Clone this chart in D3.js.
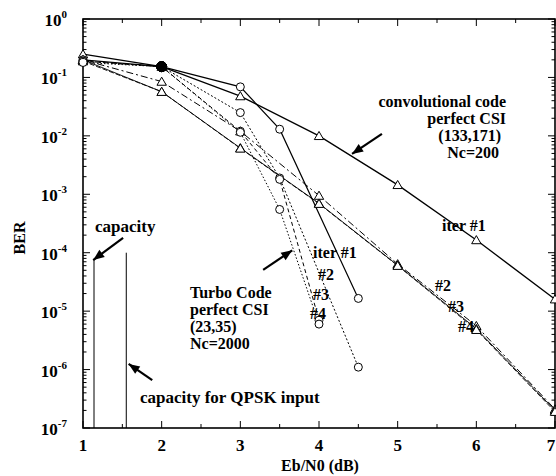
<!DOCTYPE html>
<html><head><meta charset="utf-8">
<script src="https://cdn.jsdelivr.net/npm/d3@7"></script>
<style>body{margin:0;background:#fff}svg text{font-family:"Liberation Serif","Times New Roman",serif;font-weight:bold;fill:#000}</style>
</head><body>
<svg id="c" width="556" height="476"></svg>
<script>
// ---- data ----
const xTickVals=[1,2,3,4,5,6,7];
const xMinorVals=[1.5,2.5,3.5,4.5,5.5,6.5];
const yTickExps=[0,-1,-2,-3,-4,-5,-6,-7];
const convX=[1,2,3,4,5,6,7];
const conv1=[0.25,0.153,4.8e-2,1.0e-2,1.45e-3,1.65e-4,1.6e-5];
const conv2=[0.2,8.5e-2,1.2e-2,9.5e-4,6.4e-5,5.6e-6,2.1e-7];
const conv3=[0.2,5.7e-2,6.2e-3,7.0e-4,6.1e-5,5.0e-6,2.0e-7];
const conv4=[0.19,5.7e-2,6.1e-3,6.9e-4,6.0e-5,4.8e-6,1.9e-7];
const turbo1X=[1,2,3,3.5,4.5];
const turbo1=[0.2,0.153,6.9e-2,1.3e-2,1.65e-5];
const turbo2X=[1,2,3,3.5,4.5];
const turbo2=[0.19,0.153,2.5e-2,1.9e-3,1.1e-6];
const turbo3X=[1,2,3,3.5,4];
const turbo3=[0.19,0.153,1.2e-2,1.8e-3,7e-6];
const turbo4X=[1,2,3,3.5,4];
const turbo4=[0.18,0.153,1.15e-2,5.5e-4,6e-6];
const capX=[1.14,1.55];
const capTop=[7.5e-5,1.0e-4];

// ---- layout ----
const L=83,R=555,T=19,B=428;
const svg=d3.select("#c");
const x=d3.scaleLinear().domain([1,7]).range([L,R]);
const y=d3.scaleLog().domain([1e-7,1]).range([B,T]);

// frame
svg.append("rect").attr("x",L).attr("y",T).attr("width",R-L).attr("height",B-T)
  .attr("fill","none").attr("stroke","#000").attr("stroke-width",1.6);

// ticks (inward on all sides)
const tk=svg.append("g").attr("stroke","#000").attr("stroke-width",1);
function hTick(v,len){
  tk.append("line").attr("x1",L).attr("x2",L+len).attr("y1",y(v)).attr("y2",y(v));
  tk.append("line").attr("x1",R).attr("x2",R-len).attr("y1",y(v)).attr("y2",y(v));
}
function vTick(v,len){
  tk.append("line").attr("y1",B).attr("y2",B-len).attr("x1",x(v)).attr("x2",x(v));
  tk.append("line").attr("y1",T).attr("y2",T+len).attr("x1",x(v)).attr("x2",x(v));
}
yTickExps.forEach(e=>{hTick(Math.pow(10,e),7); if(e>-7) for(let m=2;m<=9;m++) hTick(m*Math.pow(10,e-1),3.5);});
xTickVals.forEach(v=>vTick(v,7));
xMinorVals.forEach(v=>vTick(v,4));

// tick labels
xTickVals.forEach(v=>svg.append("text").attr("x",Math.min(x(v),551)).attr("y",B+23).attr("text-anchor","middle")
  .style("font-size","17px").text(v));
yTickExps.forEach(e=>{
  const t=svg.append("text").attr("x",67).attr("y",y(Math.pow(10,e))+7).attr("text-anchor","end").style("font-size","17px");
  t.append("tspan").text("10");
  t.append("tspan").attr("dy",-8).style("font-size","11px").text(e===0?"0":String(e));
});
svg.append("text").attr("x",320).attr("y",471).attr("text-anchor","middle").style("font-size","16px").text("Eb/N0 (dB)");
svg.append("text").attr("transform","translate(25,238) rotate(-90)").attr("text-anchor","middle").style("font-size","16px").text("BER");

// series
const series=[
  {xs:convX,ys:conv1,mk:"tri",dash:null,w:1.3},
  {xs:convX,ys:conv2,mk:"tri",dash:"7,3,2,3",w:1},
  {xs:convX,ys:conv3,mk:"tri",dash:null,w:0.9},
  {xs:convX,ys:conv4,mk:"tri",dash:"5,2",w:0.9},
  {xs:turbo1X,ys:turbo1,mk:"circ",dash:null,w:1.2},
  {xs:turbo2X,ys:turbo2,mk:"circ",dash:"2,2",w:1},
  {xs:turbo3X,ys:turbo3,mk:"circ",dash:"4,3",w:1},
  {xs:turbo4X,ys:turbo4,mk:"circ",dash:"1.5,2",w:1}
];
const line=d3.line().x(d=>x(d[0])).y(d=>y(d[1]));
const overlapX=2;
series.forEach(s=>{
  const pts=s.xs.map((v,i)=>[v,s.ys[i]]);
  svg.append("path").attr("d",line(pts)).attr("fill","none").attr("stroke","#000")
    .attr("stroke-width",s.w).attr("stroke-dasharray",s.dash);
});
series.forEach(s=>{
  const pts=s.xs.map((v,i)=>[v,s.ys[i]]);
  pts.forEach(p=>{
    if(s.mk==="tri"){
      svg.append("path").attr("d",d3.symbol(d3.symbolTriangle,38)())
        .attr("transform",`translate(${x(p[0])},${y(p[1])+1})`)
        .attr("fill","#fff").attr("stroke","#000").attr("stroke-width",1);
    } else {
      svg.append("circle").attr("cx",x(p[0])).attr("cy",y(p[1])).attr("r",p[0]===overlapX?5:4)
        .attr("fill",p[0]===overlapX?"#000":"#fff").attr("stroke","#000").attr("stroke-width",1);
    }
  });
});

// capacity lines
capX.forEach((c,i)=>svg.append("line").attr("x1",x(c)).attr("x2",x(c)).attr("y1",B).attr("y2",y(capTop[i]))
  .attr("stroke","#000").attr("stroke-width",1));

// arrows
function arrow(x1,y1,x2,y2){
  svg.append("line").attr("x1",x1).attr("y1",y1).attr("x2",x2).attr("y2",y2).attr("stroke","#000").attr("stroke-width",2.2);
  const a=Math.atan2(y2-y1,x2-x1),h=11,wd=4.5;
  const bx=x2-h*Math.cos(a),by=y2-h*Math.sin(a);
  svg.append("path").attr("d",`M${x2},${y2}L${bx+wd*Math.sin(a)},${by-wd*Math.cos(a)}L${bx-wd*Math.sin(a)},${by+wd*Math.cos(a)}Z`).attr("fill","#000");
}
arrow(x(1.51),y(1.8e-4),x(1.13),y(7.5e-5));
arrow(x(1.88),y(6.6e-7),x(1.58),y(1.25e-6));
arrow(x(4.8),y(1.08e-2),x(4.42),y(4.9e-3));
arrow(x(3.29),y(5.1e-5),x(3.66),y(1.1e-4));

// annotations
function txt(px,py,s,anchor,fs){svg.append("text").attr("x",px).attr("y",py).attr("text-anchor",anchor||"start").style("font-size",(fs||17)+"px").text(s);}
txt(95,232,"capacity");
txt(140,403,"capacity for QPSK input");
txt(506,107,"convolutional code","end",16);
txt(506,124,"perfect CSI","end",16);
txt(501,141,"(133,171)","end",16);
txt(499,158,"Nc=200","end",16);
txt(190,298,"Turbo Code","start",16);
txt(190,315,"perfect CSI","start",16);
txt(190,332,"(23,35)","start",16);
txt(190,349,"Nc=2000","start",16);
txt(313,258,"iter #1","start",16);
txt(318,280,"#2","start",16);
txt(313,300,"#3","start",16);
txt(310,319,"#4","start",16);
txt(442,231,"iter #1","start",16);
txt(435,291,"#2","start",16);
txt(448,312,"#3","start",16);
txt(458,332,"#4","start",16);
</script>
</body></html>
